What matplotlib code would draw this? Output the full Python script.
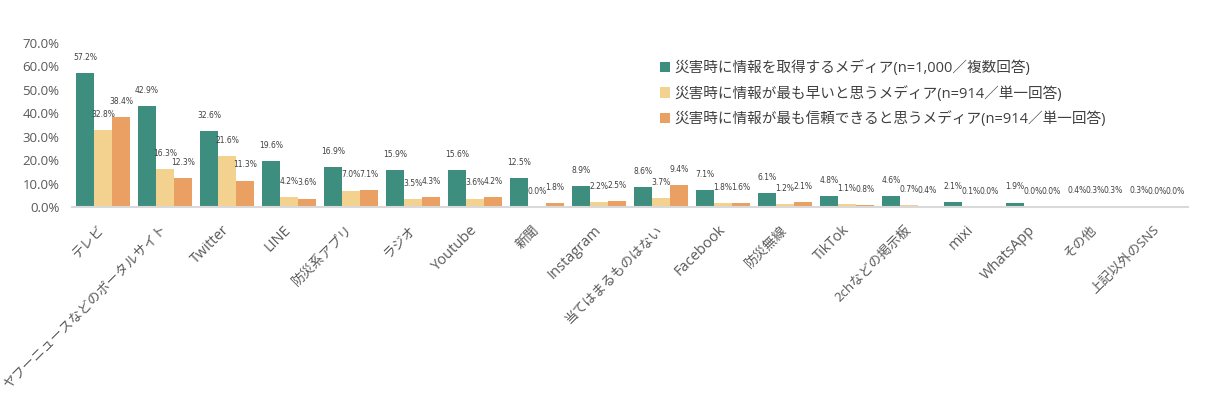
import numpy as np
import matplotlib.pyplot as plt

plt.rcParams['font.family'] = ['Open Sans', 'Noto Sans CJK JP', 'DejaVu Sans']

categories = ['テレビ', 'ヤフーニュースなどのポータルサイト', 'Twitter', 'LINE', '防災系アプリ',
              'ラジオ', 'Youtube', '新聞', 'Instagram', '当てはまるものはない', 'Facebook',
              '防災無線', 'TikTok', '2chなどの掲示板', 'mixi', 'WhatsApp', 'その他', '上記以外のSNS']
acquire = [57.2, 42.9, 32.6, 19.6, 16.9, 15.9, 15.6, 12.5, 8.9, 8.6, 7.1, 6.1, 4.8, 4.6, 2.1, 1.9, 0.4, 0.3]
fastest = [32.8, 16.3, 21.6, 4.2, 7.0, 3.5, 3.6, 0.0, 2.2, 3.7, 1.8, 1.2, 1.1, 0.7, 0.1, 0.0, 0.3, 0.0]
trusted = [38.4, 12.3, 11.3, 3.6, 7.1, 4.3, 4.2, 1.8, 2.5, 9.4, 1.6, 2.1, 0.8, 0.4, 0.0, 0.0, 0.3, 0.0]
series_names = ['災害時に情報を取得するメディア(n=1,000／複数回答)',
                '災害時に情報が最も早いと思うメディア(n=914／単一回答)',
                '災害時に情報が最も信頼できると思うメディア(n=914／単一回答)']
colors = ['#3E8E80', '#F3D18F', '#E9A062']

fig = plt.figure(figsize=(12.1, 3.99), dpi=100)
ax = fig.add_axes([0.0595, 0.4812, 0.9223, 0.411])

x = np.arange(len(categories))
w = 0.29
for k, (vals, name, c) in enumerate(zip([acquire, fastest, trusted], series_names, colors)):
    bars = ax.bar(x + (k - 1) * w, vals, width=w, color=c, label=name)
    for b, v in zip(bars, vals):
        ax.annotate(f'{v:.1f}%', (b.get_x() + b.get_width() / 2, v),
                    xytext=(0, 8), textcoords='offset points', ha='center', va='bottom',
                    fontsize=5.5, color='#404040', family='DejaVu Sans')

ax.set_xlim(-0.5, len(categories) - 0.5)
ax.set_ylim(0, 70)
ax.set_yticks(np.arange(0, 71, 10))
ax.set_yticklabels([f'{t:.1f}%' for t in range(0, 71, 10)])
ax.tick_params(axis='y', length=0, pad=9, labelsize=9.5, labelcolor='#595959')

ax.set_xticks(x)
ax.set_xticklabels(categories, rotation=45, ha='right', va='center', rotation_mode='anchor')
ax.tick_params(axis='x', length=0, pad=15, labelcolor='#595959')
# latin names read a bit larger than the japanese ones in the original
for lab in ax.get_xticklabels():
    lab.set_fontsize(10.5 if lab.get_text().isascii() else 9.5)

for s in ['top', 'right', 'left']:
    ax.spines[s].set_visible(False)
ax.spines['bottom'].set_color('#D9D9D9')
ax.spines['bottom'].set_linewidth(1.5)

fig.legend(loc='upper left', bbox_to_anchor=(660 / 1210, 1 - 60 / 399), frameon=False,
           fontsize=10.5, handlelength=0.7, handleheight=0.7, handletextpad=0.3,
           labelspacing=0.68, borderpad=0, borderaxespad=0, labelcolor='#404040')

fig.savefig('out.png', dpi=100)
